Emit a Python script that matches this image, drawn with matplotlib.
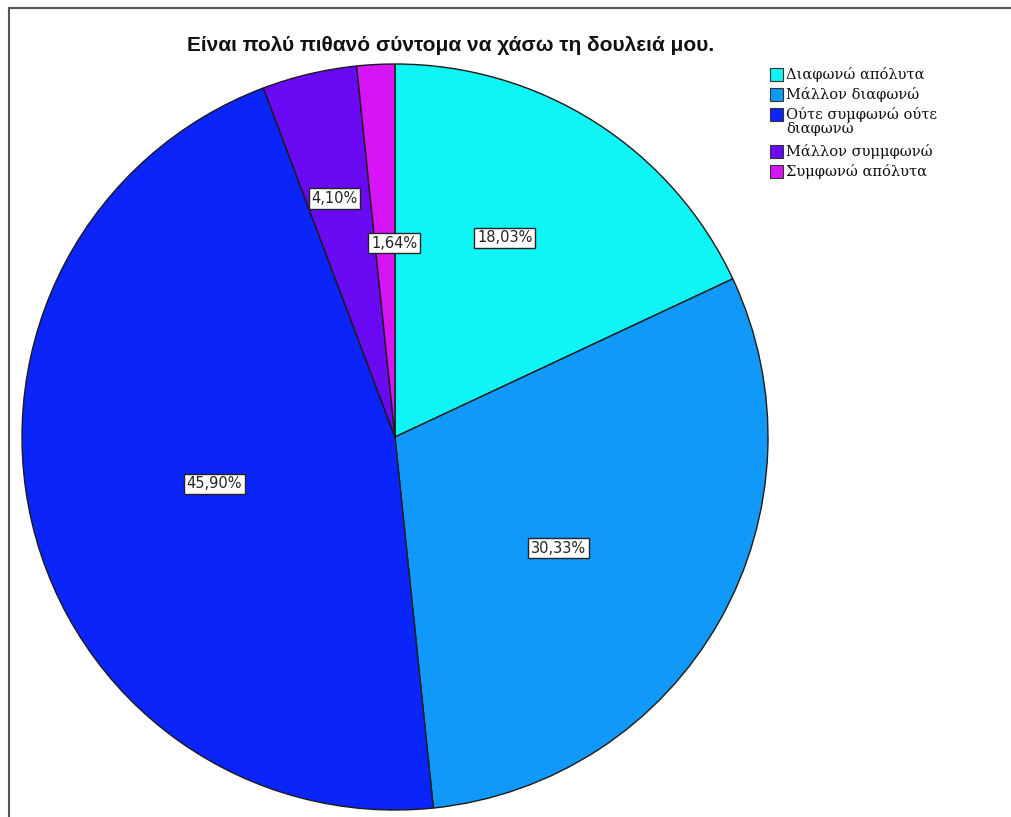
import matplotlib
matplotlib.use("Agg")
import matplotlib.pyplot as plt
from matplotlib.patches import Rectangle
from matplotlib.lines import Line2D
import numpy as np

# Survey responses: "Είναι πολύ πιθανό σύντομα να χάσω τη δουλειά μου."
categories = [
    "Διαφωνώ απόλυτα",
    "Μάλλον διαφωνώ",
    "Ούτε συμφωνώ ούτε\nδιαφωνώ",
    "Μάλλον συμμφωνώ",
    "Συμφωνώ απόλυτα",
]
percentages = [18.03, 30.33, 45.90, 4.10, 1.64]
colors = ["#0FF5F5", "#1199FA", "#0A24FA", "#6A0AF5", "#D614F5"]
title = "Είναι πολύ πιθανό σύντομα να χάσω τη δουλειά μου."

W, H = 1012, 817
fig = plt.figure(figsize=(W / 100, H / 100), dpi=100)
ax = fig.add_axes([0, 0, 1, 1])

cx, cy, R = 395, H - 437, 373

wedges, _ = ax.pie(
    percentages,
    colors=colors,
    startangle=90,
    counterclock=False,
    center=(cx, cy),
    radius=R,
    frame=True,
    wedgeprops=dict(edgecolor="#1a1a1a", linewidth=1.0),
)
ax.set_xlim(0, W)
ax.set_ylim(0, H)
ax.set_aspect("equal")
ax.axis("off")

# percentage labels, placed along each wedge's bisector
label_radius = [0.61, 0.53, 0.50, 0.66, 0.52]
label_shift = [-3.6, 4.7, -1.2, -1.0, 2.7]
cum = 0.0
for pct, rf, sh in zip(percentages, label_radius, label_shift):
    mid = (cum + pct / 2) * 3.6 + sh
    cum += pct
    a = np.deg2rad(90 - mid)
    x = cx + rf * R * np.cos(a)
    y = cy + rf * R * np.sin(a)
    ax.text(x, y, f"{pct:.2f}%".replace(".", ","), ha="center", va="center",
            fontsize=10.5, family="DejaVu Sans", color="#222222",
            bbox=dict(boxstyle="square,pad=0.18", facecolor="white",
                      edgecolor="#222222", linewidth=1.0))

ax.text(451, H - 45, title, ha="center", va="center", fontsize=15,
        fontweight="bold", family="Liberation Sans", color="#111111")

# legend
lx = 770
y = H - 74
for lab, col in zip(categories, colors):
    nlines = lab.count("\n") + 1
    ax.add_patch(Rectangle((lx, y - 6.5), 13, 13, facecolor=col,
                           edgecolor="#333333", linewidth=0.8))
    ax.text(lx + 16, y + 7.5, lab, ha="left", va="top", fontsize=10.5,
            family="DejaVu Serif", color="#111111", linespacing=0.95)
    y -= 20 + (nlines - 1) * 17

# outer frame (top and left edges)
fig.add_artist(Line2D([8.5 / W, 1], [1 - 7.5 / H, 1 - 7.5 / H],
                      transform=fig.transFigure, color="#555555", linewidth=1.5))
fig.add_artist(Line2D([8.5 / W, 8.5 / W], [0, 1 - 7.5 / H],
                      transform=fig.transFigure, color="#555555", linewidth=1.5))

fig.savefig("out.png", dpi=100, facecolor="white")
